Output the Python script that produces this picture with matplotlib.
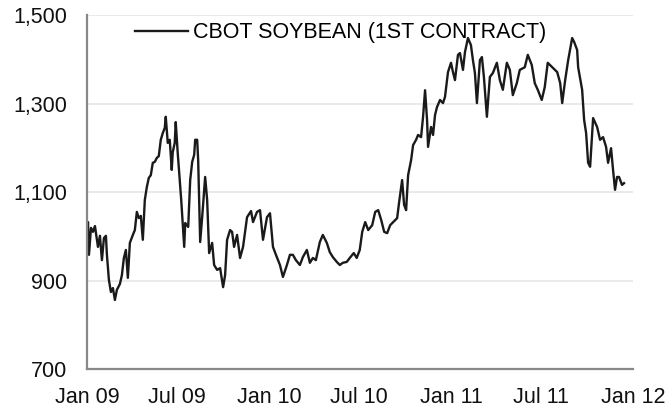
import matplotlib
matplotlib.use('Agg')
import matplotlib.pyplot as plt
import matplotlib.dates as mdates
import matplotlib.ticker as mticker
import pandas as pd

# days since 1 Jan 2009
dias = [0, 2, 4, 8, 12, 16, 20, 22, 26, 30, 34, 38, 40, 44, 48, 52, 56, 60, 66, 70,
        74, 78, 82, 86, 92, 96, 100, 104, 108, 112, 116, 120, 124, 128, 132, 136, 140, 144, 148, 152,
        156, 158, 162, 166, 170, 172, 176, 178, 182, 189, 195, 197, 203, 207, 211, 215, 217, 221, 223, 227,
        231, 237, 241, 245, 251, 255, 261, 267, 273, 277, 281, 287, 291, 295, 301, 307, 313, 321, 329, 333,
        341, 347, 353, 361, 367, 373, 379, 387, 393, 401, 407, 413, 419, 427, 433, 441, 447, 453, 459, 467,
        473, 481, 487, 493, 501, 507, 513, 521, 527, 535, 541, 547, 552, 558, 564, 572, 578, 584, 590, 596,
        602, 608, 614, 622, 626, 632, 636, 640, 644, 650, 654, 660, 664, 670, 674, 678, 682, 684, 690, 694,
        698, 702, 708, 714, 718, 724, 730, 734, 738, 744, 748, 754, 758, 764, 770, 774, 778, 782, 788, 792,
        796, 802, 808, 814, 822, 828, 834, 842, 848, 854, 862, 868, 878, 884, 892, 898, 904, 912, 918, 924,
        933, 943, 949, 953, 959, 965, 973, 977, 983, 985, 993, 997, 1001, 1005, 1009, 1015, 1023, 1029, 1035, 1041,
        1045, 1051, 1055, 1059, 1063, 1067, 1073, 1077]

precio = [969, 1032, 958, 1019, 1010, 1023, 992, 976, 1001, 946, 996, 1001, 958, 901, 874, 883, 856, 879, 892, 912,
          951, 969, 906, 985, 1003, 1014, 1055, 1041, 1046, 992, 1082, 1111, 1132, 1138, 1166, 1168, 1177, 1181, 1218, 1233,
          1245, 1270, 1211, 1218, 1150, 1190, 1211, 1258, 1188, 1082, 976, 1030, 1021, 1127, 1168, 1184, 1218, 1218, 1172, 987,
          1043, 1134, 1082, 962, 985, 935, 924, 928, 885, 912, 992, 1014, 1010, 976, 1003, 951, 976, 1043, 1057, 1032,
          1055, 1059, 992, 1043, 1052, 976, 958, 935, 908, 935, 958, 958, 946, 935, 953, 969, 940, 951, 946, 987,
          1003, 985, 964, 953, 942, 935, 940, 942, 951, 962, 951, 969, 1010, 1032, 1014, 1025, 1055, 1059, 1037, 1010,
          1007, 1025, 1032, 1041, 1077, 1127, 1071, 1059, 1138, 1172, 1206, 1218, 1229, 1224, 1270, 1330, 1263, 1202, 1247, 1229,
          1274, 1292, 1308, 1301, 1315, 1371, 1392, 1371, 1353, 1410, 1414, 1376, 1416, 1448, 1432, 1398, 1369, 1301, 1398, 1405,
          1360, 1270, 1360, 1369, 1392, 1353, 1331, 1392, 1376, 1319, 1346, 1376, 1382, 1410, 1387, 1346, 1331, 1308, 1337, 1392,
          1382, 1371, 1346, 1301, 1353, 1398, 1448, 1439, 1421, 1382, 1331, 1263, 1233, 1166, 1157, 1267, 1247, 1218, 1224, 1202,
          1166, 1199, 1150, 1105, 1134, 1134, 1116, 1120]

serie = 'CBOT SOYBEAN (1ST CONTRACT)'
yticks = [700, 900, 1100, 1300, 1500]

fechas = pd.Timestamp('2009-01-01') + pd.to_timedelta(dias, unit='D')

plt.rcParams['font.family'] = ['Liberation Sans', 'DejaVu Sans']

fig = plt.figure(figsize=(6.68, 4.09), dpi=100)
ax = fig.add_axes([0.1302, 0.0978, 0.8174, 0.8655])

for y in yticks[1:]:
    ax.axhline(y, color='#e6e6e6', linewidth=1.2, zorder=0)

ax.plot(fechas, precio, color='#1a1a1a', linewidth=1.7, label=serie)

ax.set_ylim(700, 1500)
ax.set_xlim(pd.Timestamp('2009-01-01'), pd.Timestamp('2012-01-01'))
ax.set_yticks(yticks)
ax.yaxis.set_major_formatter(mticker.FuncFormatter(lambda v, p: '{:,.0f}'.format(v)))
ax.xaxis.set_major_locator(mdates.MonthLocator(bymonth=[1, 7]))
ax.xaxis.set_major_formatter(mdates.DateFormatter('%b %y'))

for s in ['top', 'right']:
    ax.spines[s].set_visible(False)
for s in ['left', 'bottom']:
    ax.spines[s].set_color('#888888')
    ax.spines[s].set_linewidth(1.6)

ax.tick_params(axis='both', length=0, labelsize=15.5, colors='#111111')
ax.tick_params(axis='y', pad=14)
ax.tick_params(axis='x', pad=13)

ax.legend(loc='center left', bbox_to_anchor=(0.088, 0.95), frameon=False,
          fontsize=15.5, handlelength=2.47, handletextpad=0.23,
          borderpad=0, borderaxespad=0)

fig.savefig('out.png', dpi=100)
